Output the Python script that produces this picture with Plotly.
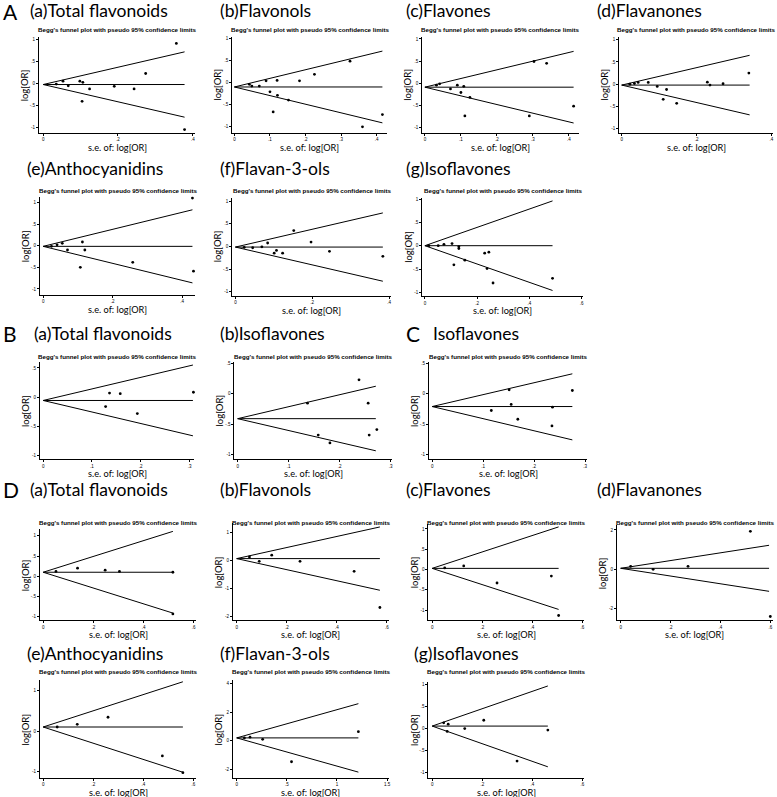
import plotly.graph_objects as go

W, H = 777, 797

# ---------------- data ----------------
A_a_se = [0.035, 0.053, 0.067, 0.098, 0.106, 0.124, 0.104, 0.19, 0.243, 0.274, 0.356, 0.378]
A_a_logor = [-0.02, 0.045, -0.06, 0.045, 0.02, -0.13, -0.41, -0.07, -0.13, 0.22, 0.90, -1.05]

A_b_se = [0.042, 0.049, 0.07, 0.089, 0.12, 0.10, 0.121, 0.152, 0.109, 0.183, 0.225, 0.325, 0.36, 0.416]
A_b_logor = [-0.04, -0.08, -0.08, 0.04, 0.05, -0.21, -0.29, -0.40, -0.67, 0.04, 0.19, 0.49, -1.01, -0.73]

A_c_se = [0.032, 0.041, 0.071, 0.09, 0.108, 0.10, 0.125, 0.111, 0.303, 0.338, 0.29, 0.413]
A_c_logor = [-0.045, -0.015, -0.13, -0.045, -0.07, -0.21, -0.32, -0.74, 0.49, 0.45, -0.74, -0.52]

A_d_se = [0.022, 0.034, 0.044, 0.071, 0.095, 0.12, 0.111, 0.147, 0.229, 0.236, 0.271, 0.34]
A_d_logor = [0.0, 0.015, 0.04, 0.04, -0.05, -0.12, -0.34, -0.43, 0.045, -0.02, 0.01, 0.25]

A_e_se = [0.024, 0.04, 0.055, 0.07, 0.113, 0.12, 0.107, 0.258, 0.43, 0.433]
A_e_logor = [-0.015, 0.02, 0.055, -0.10, 0.085, -0.10, -0.5, -0.385, 1.10, -0.59]

A_f_se = [0.023, 0.045, 0.069, 0.084, 0.101, 0.107, 0.123, 0.152, 0.197, 0.245, 0.384]
A_f_logor = [-0.02, -0.03, -0.01, 0.075, -0.15, -0.09, -0.15, 0.35, 0.095, -0.11, -0.22]

A_g_se = [0.015, 0.051, 0.073, 0.104, 0.13, 0.13, 0.153, 0.111, 0.229, 0.245, 0.238, 0.261, 0.489]
A_g_logor = [0.0, 0.0, 0.03, 0.045, -0.02, -0.06, -0.31, -0.41, -0.16, -0.14, -0.49, -0.80, -0.70]

B_a_se = [0.136, 0.158, 0.308, 0.128, 0.193]
B_a_logor = [0.07, 0.06, 0.085, -0.16, -0.28]

B_b_se = [0.238, 0.137, 0.256, 0.158, 0.181, 0.258, 0.273]
B_b_logor = [0.23, -0.155, -0.155, -0.68, -0.81, -0.68, -0.59]

C_se = [0.151, 0.275, 0.116, 0.155, 0.168, 0.236, 0.235]
C_logor = [0.065, 0.055, -0.275, -0.175, -0.42, -0.22, -0.53]

D_a_se = [0.051, 0.137, 0.247, 0.304, 0.517, 0.517]
D_a_logor = [0.12, 0.20, 0.15, 0.12, 0.10, -0.93]

D_b_se = [0.051, 0.09, 0.14, 0.253, 0.469, 0.572]
D_b_logor = [0.12, -0.035, 0.18, -0.035, -0.39, -1.67]

D_c_se = [0.05, 0.126, 0.259, 0.476, 0.505]
D_c_logor = [0.04, 0.09, -0.33, -0.16, -1.13]

D_d_se = [0.04, 0.13, 0.27, 0.52, 0.60]
D_d_logor = [0.15, 0.0, 0.15, 1.93, -2.4]

D_e_se = [0.056, 0.136, 0.259, 0.476, 0.558]
D_e_logor = [0.10, 0.165, 0.34, -0.61, -1.02]

D_f_se = [0.077, 0.133, 0.259, 0.547, 1.214]
D_f_logor = [0.20, 0.25, 0.10, -1.46, 0.63]

D_g_se = [0.046, 0.064, 0.06, 0.13, 0.206, 0.339, 0.462]
D_g_logor = [0.13, 0.10, -0.065, 0.0, 0.19, -0.74, -0.035]

se_lists = [A_a_se, A_b_se, A_c_se, A_d_se, A_e_se, A_f_se, A_g_se,
            B_a_se, B_b_se, C_se,
            D_a_se, D_b_se, D_c_se, D_d_se, D_e_se, D_f_se, D_g_se]
logor_lists = [A_a_logor, A_b_logor, A_c_logor, A_d_logor, A_e_logor, A_f_logor, A_g_logor,
               B_a_logor, B_b_logor, C_logor,
               D_a_logor, D_b_logor, D_c_logor, D_d_logor, D_e_logor, D_f_logor, D_g_logor]

# pooled estimate line and pseudo 95% limits (end values at the largest s.e.)
pooled_logor = [-0.03, -0.10, -0.09, -0.02, -0.015, -0.015, 0.0, -0.056, -0.41, -0.21,
                0.10, 0.06, 0.03, 0.05, 0.10, 0.20, 0.057]
se_max = [0.378, 0.416, 0.413, 0.342, 0.43, 0.384, 0.489, 0.307, 0.271, 0.275,
          0.517, 0.572, 0.505, 0.595, 0.558, 1.214, 0.462]
upper_end = [0.71, 0.72, 0.72, 0.65, 0.83, 0.74, 0.96, 0.55, 0.125, 0.33,
             1.11, 1.18, 1.05, 1.22, 1.21, 2.58, 0.97]
lower_end = [-0.77, -0.92, -0.90, -0.69, -0.86, -0.77, -0.96, -0.66, -0.94, -0.76,
             -0.91, -1.06, -0.98, -1.12, -1.01, -2.18, -0.87]

panel_titles = ["(a)Total flavonoids", "(b)Flavonols", "(c)Flavones", "(d)Flavanones",
                "(e)Anthocyanidins", "(f)Flavan-3-ols", "(g)Isoflavones",
                "(a)Total flavonoids", "(b)Isoflavones", "Isoflavones",
                "(a)Total flavonoids", "(b)Flavonols", "(c)Flavones", "(d)Flavanones",
                "(e)Anthocyanidins", "(f)Flavan-3-ols", "(g)Isoflavones"]
section_letters = ["A", "B", "C", "D"]

x_ticks = [[0, .2, .4], [0, .1, .2, .3, .4], [0, .1, .2, .3, .4], [0, .2, .4],
           [0, .2, .4], [0, .2, .4], [0, .2, .4, .6],
           [0, .1, .2, .3], [0, .1, .2, .3], [0, .1, .2, .3],
           [0, .2, .4, .6], [0, .2, .4, .6], [0, .2, .4, .6], [0, .2, .4, .6],
           [0, .2, .4, .6], [0, .5, 1, 1.5], [0, .2, .4, .6]]
x_ticktext = [["0", ".2", ".4"], ["0", ".1", ".2", ".3", ".4"], ["0", ".1", ".2", ".3", ".4"], ["0", ".2", ".4"],
              ["0", ".2", ".4"], ["0", ".2", ".4"], ["0", ".2", ".4", ".6"],
              ["0", ".1", ".2", ".3"], ["0", ".1", ".2", ".3"], ["0", ".1", ".2", ".3"],
              ["0", ".2", ".4", ".6"], ["0", ".2", ".4", ".6"], ["0", ".2", ".4", ".6"], ["0", ".2", ".4", ".6"],
              ["0", ".2", ".4", ".6"], ["0", ".5", "1", "1.5"], ["0", ".2", ".4", ".6"]]
y_ticks_std = [-1, -.5, 0, .5, 1]
y_ticktext_std = ["-1", "-.5", "0", ".5", "1"]
y_ticks = [y_ticks_std] * 7 + [[-1, -.5, 0, .5]] * 3 + \
          [y_ticks_std, [-2, -1, 0, 1], y_ticks_std, [-2, 0, 2], [-1, 0, 1], [-2, 0, 2, 4], y_ticks_std]
y_ticktext = [y_ticktext_std] * 7 + [["-1", "-.5", "0", ".5"]] * 3 + \
             [y_ticktext_std, ["-2", "-1", "0", "1"], y_ticktext_std, ["-2", "0", "2"],
              ["-1", "0", "1"], ["-2", "0", "2", "4"], y_ticktext_std]

# ---------------- layout (pixel geometry) ----------------
boxes = [(39, 196, 36, 132), (232.7, 388, 36, 132), (423.3, 580, 36, 132), (620.7, 775, 36, 132),
         (40, 196, 196, 294), (232.7, 392, 197, 295), (423.3, 585, 197, 295.7),
         (40, 195, 361, 459), (235, 393, 361, 459), (430, 589, 361, 459),
         (40, 197, 529, 620), (233.5, 390, 523, 620), (429.5, 586, 524, 620), (618.5, 775, 525, 620),
         (40, 197, 680, 778), (233.5, 390, 680, 778), (429.5, 586, 682, 778)]
x_cal = [(43.3, 375), (235, 356.7), (426, 361), (623.3, 375),
         (43.3, 348), (236, 385), (426, 261.7),
         (43.3, 489), (238.3, 511), (433.3, 511),
         (43.3, 251.5), (237.3, 251), (433.3, 251), (622.3, 250),
         (43.3, 251), (237.3, 100.5), (433.3, 251)]
y_cal = [(82.3, 44.2), (81.7, 43.8), (82.3, 44.3), (83.3, 44.5),
         (245, 43.3), (245.7, 45.3), (245, 46.7),
         (396.7, 58.6), (393.3, 60.7), (393.3, 60.7),
         (576, 40.5), (560, 28.3), (569.3, 40.7), (569, 19.7),
         (731, 40.8), (740.7, 14.4), (728.5, 44)]
row_of = [0, 0, 0, 0, 1, 1, 1, 2, 2, 2, 3, 3, 3, 3, 4, 4, 4]
title_x = [28, 218.3, 405, 596.7, 25, 218.3, 405, 31.7, 218.3, 431.7,
           28.3, 218.3, 405, 596.7, 25, 218.3, 413.3]
title_y_row = [10, 168, 333, 489, 653]
subtitle_y_row = [28.3, 190, 355.7, 521.7, 671.7]
letter_pos = [(1, 10.5), (1, 333), (405, 333), (1, 489)]

TITLE_FONT = "Lato, 'Open Sans', sans-serif"
SMALL_FONT = "'Liberation Sans Narrow', 'Liberation Sans', Arial, sans-serif"


def px(x):
    return x / W


def py(y):
    return 1 - y / H


fig = go.Figure()
layout = {}
annotations = []
line_style = dict(color="black", width=1)

for i in range(len(se_lists)):
    suf = "" if i == 0 else str(i + 1)
    xr, yr = "x" + suf, "y" + suf
    smax, p = se_max[i], pooled_logor[i]
    for yend in (upper_end[i], lower_end[i], p):
        fig.add_trace(go.Scatter(x=[0, smax], y=[p, yend], mode="lines", line=line_style,
                                 xaxis=xr, yaxis=yr, showlegend=False, hoverinfo="skip"))
    fig.add_trace(go.Scatter(x=se_lists[i], y=logor_lists[i], mode="markers",
                             marker=dict(size=2.8, color="black"), cliponaxis=False,
                             xaxis=xr, yaxis=yr, showlegend=False))

    L, R, T, B = boxes[i]
    x0, xs = x_cal[i]
    y0, ys = y_cal[i]
    common = dict(showline=True, linecolor="black", linewidth=1, ticks="outside", ticklen=2,
                  tickwidth=0.8, tickcolor="black", showgrid=False, zeroline=False,
                  tickfont=dict(size=4.5, family=SMALL_FONT, color="black"), fixedrange=True)
    layout["xaxis" + suf] = dict(domain=[px(L), px(R)], range=[(L - x0) / xs, (R - x0) / xs],
                                 anchor=yr, tickvals=x_ticks[i], ticktext=x_ticktext[i], **common)
    layout["yaxis" + suf] = dict(domain=[py(B), py(T)], range=[(y0 - B) / ys, (y0 - T) / ys],
                                 anchor=xr, tickvals=y_ticks[i], ticktext=y_ticktext[i], **common)

    r = row_of[i]
    annotations.append(dict(text=panel_titles[i], x=px(title_x[i]), y=py(title_y_row[r]),
                            xref="paper", yref="paper", xanchor="left", yanchor="middle",
                            showarrow=False, font=dict(size=17.5, family=TITLE_FONT, color="black")))
    annotations.append(dict(text="Begg's funnel plot with pseudo 95% confidence limits",
                            x=px((L + R) / 2), y=py(subtitle_y_row[r]), xref="paper", yref="paper",
                            xanchor="center", yanchor="middle", showarrow=False,
                            font=dict(size=6.2, family=SMALL_FONT, color="black", weight="bold")))
    annotations.append(dict(text="log[OR]", x=px(L - 14.5), y=py((T + B) / 2), xref="paper", yref="paper",
                            xanchor="center", yanchor="middle", textangle=-90, showarrow=False,
                            font=dict(size=9.5, family=TITLE_FONT, color="black")))
    annotations.append(dict(text="s.e. of: log[OR]", x=px((L + R) / 2), y=py(B + 14.5),
                            xref="paper", yref="paper", xanchor="center", yanchor="middle",
                            showarrow=False, font=dict(size=9.2, family=TITLE_FONT, color="black")))

for letter, (lx, ly) in zip(section_letters, letter_pos):
    annotations.append(dict(text=letter, x=px(lx), y=py(ly), xref="paper", yref="paper",
                            xanchor="left", yanchor="middle", showarrow=False,
                            font=dict(size=21, family=TITLE_FONT, color="black")))

fig.update_layout(width=W, height=H, autosize=False, margin=dict(l=0, r=0, t=0, b=0),
                  paper_bgcolor="white", plot_bgcolor="white", showlegend=False,
                  annotations=annotations, **layout)

fig.write_html("out.html", config={"displayModeBar": False},
               post_script="document.body.style.margin='0';document.body.style.overflow='hidden';")
